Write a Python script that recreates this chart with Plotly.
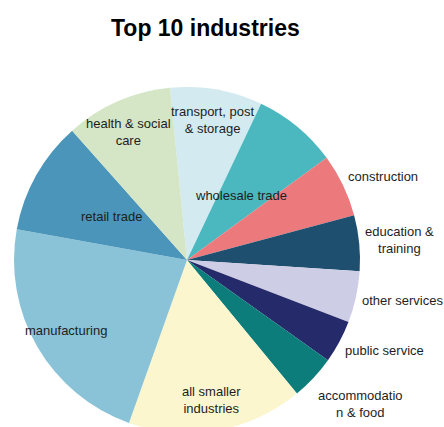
import plotly.graph_objects as go

# Share of employment by industry (%), clockwise from the top
industries = [
    "transport, post & storage",
    "wholesale trade",
    "construction",
    "education & training",
    "other services",
    "public service",
    "accommodation & food",
    "all smaller industries",
    "manufacturing",
    "retail trade",
    "health & social care",
]
shares = [8.6, 7.9, 5.9, 5.2, 4.8, 4.0, 4.2, 16.4, 22.4, 10.6, 10.0]

# Label text as drawn (with line breaks) and its position in pixels
label_text = [
    "transport, post<br>& storage",
    "wholesale trade",
    "construction",
    "education &<br>training",
    "other services",
    "public service",
    "accommodatio<br>n & food",
    "all smaller<br>industries",
    "manufacturing",
    "retail trade",
    "health & social<br>care",
]
label_px = [
    (212, 120), (241, 195), (383, 176), (399, 240), (402, 300),
    (384, 350), (360, 404), (211, 400), (66, 330), (111, 216), (128, 132),
]

colors = [
    "#d3eaf1", "#4bb8bf", "#ec7a7d", "#1e4f6f", "#cecde6",
    "#252a6a", "#0c7d7b", "#fbf6cd", "#8ac3d7", "#4a95b9", "#d4e6c6",
]

W, H = 444, 434
cx, cy, r = 187, 260, 173


def px_x(x):
    return x / W


def px_y(y):
    return 1 - y / H


fig = go.Figure(
    go.Pie(
        labels=industries,
        values=shares,
        sort=False,
        direction="clockwise",
        rotation=-5.6,
        marker=dict(colors=colors, line=dict(width=0)),
        textinfo="none",
        hoverinfo="label+percent",
        domain=dict(x=[px_x(cx - r), px_x(cx + r)], y=[px_y(cy + r), px_y(cy - r)]),
        showlegend=False,
    )
)

annotations = [
    dict(
        text="<b>Top 10 industries</b>",
        x=px_x(205), y=px_y(28), xref="paper", yref="paper",
        showarrow=False, xanchor="center", yanchor="middle",
        font=dict(family="Liberation Sans Narrow, Arial Narrow, Liberation Sans, Arial",
                  size=23, color="#000000"),
    )
]
for txt, (lx, ly) in zip(label_text, label_px):
    annotations.append(
        dict(
            text=txt, x=px_x(lx), y=px_y(ly), xref="paper", yref="paper",
            showarrow=False, xanchor="center", yanchor="middle", align="center",
            font=dict(family="Liberation Sans, Arial", size=13, color="#1e1e1e"),
        )
    )

fig.update_layout(
    width=W,
    height=H,
    margin=dict(l=0, r=0, t=0, b=0),
    paper_bgcolor="#ffffff",
    plot_bgcolor="#ffffff",
    annotations=annotations,
)

fig.write_html(
    "out.html",
    post_script="document.documentElement.style.overflow='hidden';document.body.style.overflow='hidden';",
)
